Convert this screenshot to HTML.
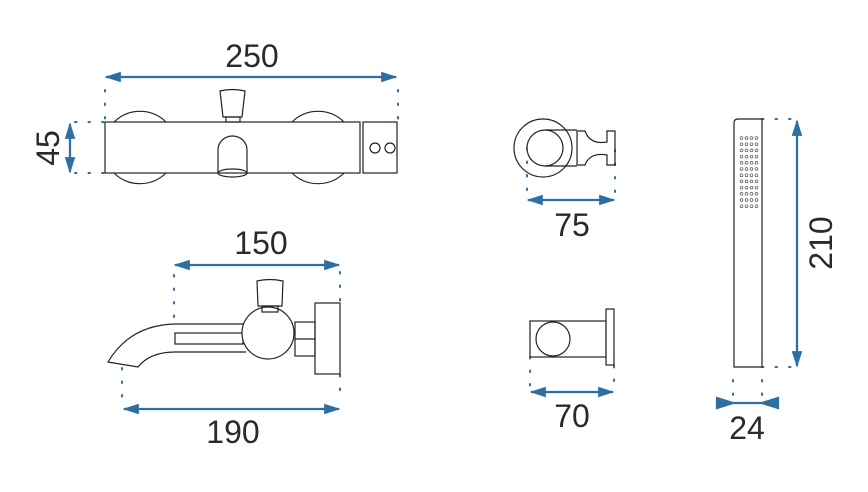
<!DOCTYPE html>
<html><head><meta charset="utf-8"><style>
html,body{margin:0;padding:0;background:#fff}
svg{display:block}
text{font-family:"Liberation Sans",sans-serif;font-size:32px;fill:#2a2a2a}
</style></head><body>
<svg width="868" height="492" viewBox="0 0 868 492" xmlns="http://www.w3.org/2000/svg">
<defs>
<marker id="a" viewBox="0 0 10 10" refX="9" refY="5" markerWidth="7.5" markerHeight="7.5" orient="auto-start-reverse"><path d="M0,1.8 L10,5 L0,8.2 z" fill="#2e6fa3"/></marker>
</defs>
<g fill="none" stroke="#2e6fa3" stroke-width="2.2" marker-start="url(#a)" marker-end="url(#a)">
<line x1="106" y1="77" x2="396" y2="77"/>
<line x1="70" y1="124" x2="70" y2="172"/>
<line x1="175" y1="265" x2="339" y2="265"/>
<line x1="124" y1="409" x2="339" y2="409"/>
<line x1="528" y1="200" x2="614" y2="200"/>
<line x1="531" y1="392" x2="613" y2="392"/>
<line x1="797" y1="121" x2="797" y2="366"/>
</g>
<g stroke="#2e6fa3" stroke-width="2.2" fill="#2e6fa3">
<line x1="730" y1="403" x2="765" y2="403"/>
<path d="M733,403 L717,398 L717,408 z"/><path d="M762,403 L778,398 L778,408 z"/>
</g>
<g fill="none" stroke="#2e6fa3" stroke-width="2" stroke-dasharray="1.5 12" stroke-linecap="round">
<line x1="105" y1="90" x2="105" y2="122"/><line x1="398" y1="90" x2="398" y2="122"/>
<line x1="75" y1="122" x2="105" y2="122"/><line x1="75" y1="173" x2="105" y2="173"/>
<line x1="174" y1="275" x2="174" y2="325"/><line x1="340" y1="272" x2="340" y2="305"/>
<line x1="122" y1="368" x2="122" y2="400"/><line x1="340" y1="375" x2="340" y2="400"/>
<line x1="527" y1="148" x2="527" y2="195"/><line x1="615" y1="150" x2="615" y2="195"/>
<line x1="530" y1="357" x2="530" y2="387"/><line x1="614" y1="366" x2="614" y2="387"/>
<line x1="762" y1="119" x2="792" y2="119"/><line x1="762" y1="367" x2="792" y2="367"/>
<line x1="733" y1="380" x2="733" y2="397"/><line x1="762" y1="380" x2="762" y2="397"/>
</g>
<g fill="none" stroke="#222" stroke-width="1.2">
<path d="M114,122 A37,37 0 0 1 166,122"/><path d="M114,173 A37,37 0 0 0 166,173"/>
<path d="M292,122 A37,37 0 0 1 344,122"/><path d="M292,173 A37,37 0 0 0 344,173"/>
<rect x="105" y="122" width="255" height="51" fill="#fff"/>
<rect x="363" y="122" width="34" height="51"/>
<circle cx="375" cy="148" r="5"/><circle cx="390" cy="148" r="5"/>
<path d="M220,91 Q232,88 245,91 L242,117 L223,117 z"/>
<rect x="226" y="117" width="14" height="5"/>
<path d="M218,173 L218,150 A14.5,14 0 0 1 247,150 L247,173"/>
<ellipse cx="232.5" cy="173" rx="14.5" ry="4"/>
<path d="M246,324 L175,324 Q130,325 108,362 L138,367 Q150,352 175,352 L246,352"/>
<rect x="175" y="333" width="68" height="11"/>
<circle cx="268" cy="333" r="26" fill="#fff"/>
<path d="M257,281 Q270,278 283,281 L282,306 L258,306 z"/>
<rect x="262" y="306" width="16" height="6"/>
<rect x="295" y="322" width="20" height="34"/>
<line x1="295" y1="339" x2="315" y2="339"/>
<rect x="315" y="303" width="25" height="71"/>
<circle cx="543" cy="148" r="29"/>
<circle cx="545" cy="148" r="18" fill="#fff"/>
<line x1="545" y1="130" x2="577" y2="130"/><line x1="545" y1="166" x2="577" y2="166"/>
<path d="M577,131 L577,165 M577,131 L585,131 Q590,145 607,142 L607,131 L615,131 L615,165 L607,165 L607,155 Q590,152 585,165 L577,165"/>
<rect x="530" y="321" width="76" height="36"/>
<circle cx="553" cy="339" r="17"/>
<rect x="606" y="309" width="8" height="56" fill="#fff"/>
<path d="M738,119 L762,119 L762,367 L734,367 L734,123 Q734,119 738,119 z"/>
</g>
<g fill="none" stroke="#555" stroke-width="0.7">
<g id="row"><circle cx="741.5" cy="138" r="1.4"/><circle cx="746.5" cy="138" r="1.4"/><circle cx="751.5" cy="138" r="1.4"/><circle cx="756.5" cy="138" r="1.4"/></g>
<use href="#row" y="6.2"/><use href="#row" y="12.4"/><use href="#row" y="18.6"/><use href="#row" y="24.8"/><use href="#row" y="31"/><use href="#row" y="37.2"/><use href="#row" y="43.4"/><use href="#row" y="49.6"/><use href="#row" y="55.8"/><use href="#row" y="62"/><use href="#row" y="68.2"/>
</g>
<text x="252" y="67" text-anchor="middle">250</text>
<text transform="translate(59,148) rotate(-90)" text-anchor="middle">45</text>
<text x="261" y="254" text-anchor="middle">150</text>
<text x="233" y="443" text-anchor="middle">190</text>
<text x="572" y="236" text-anchor="middle">75</text>
<text x="572" y="427" text-anchor="middle">70</text>
<text transform="translate(832,243) rotate(-90)" text-anchor="middle">210</text>
<text x="747" y="439" text-anchor="middle">24</text>
</svg>
</body></html>
